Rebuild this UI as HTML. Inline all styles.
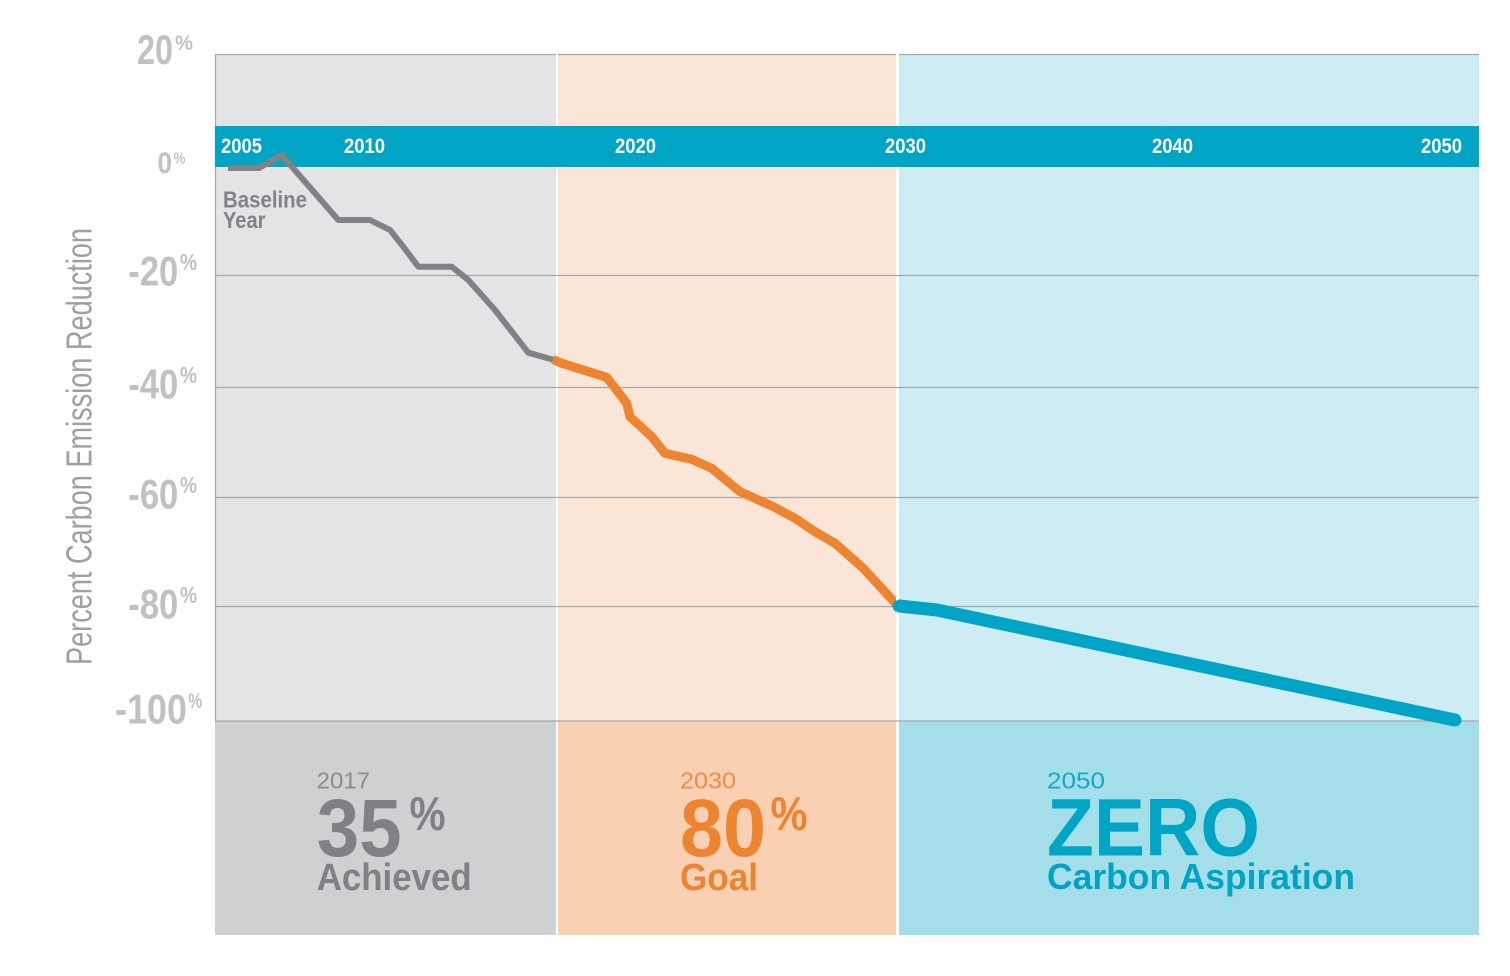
<!DOCTYPE html>
<html>
<head>
<meta charset="utf-8">
<style>
  html, body { margin: 0; padding: 0; background: #ffffff; }
  body { width: 1510px; height: 976px; overflow: hidden; }
  svg { display: block; }
  text { font-family: "Liberation Sans", "DejaVu Sans", sans-serif; }
</style>
</head>
<body>
<svg width="1510" height="976" viewBox="0 0 1510 976" xmlns="http://www.w3.org/2000/svg">
  <rect x="0" y="0" width="1510" height="976" fill="#ffffff"/>

  <!-- plot area column backgrounds -->
  <rect x="215" y="54" width="341" height="667" fill="#e3e4e6"/>
  <rect x="558" y="54" width="338" height="667" fill="#fbe5d6"/>
  <rect x="899" y="54" width="580" height="667" fill="#cdecf3"/>

  <!-- bottom panels -->
  <rect x="215" y="721" width="341" height="214" fill="#cfd0d2"/>
  <rect x="558" y="721" width="338" height="214" fill="#f9d1b2"/>
  <rect x="899" y="721" width="580" height="214" fill="#a4dfe9"/>

  <!-- grid lines -->
  <g stroke="#a6a7a9" stroke-width="1.2" fill="none">
    <line x1="215" y1="54.5" x2="1479" y2="54.5"/>
    <line x1="215" y1="275.5" x2="1479" y2="275.5"/>
    <line x1="215" y1="387.5" x2="1479" y2="387.5"/>
    <line x1="215" y1="497.5" x2="1479" y2="497.5"/>
    <line x1="215" y1="606.5" x2="1479" y2="606.5"/>
    <line x1="215" y1="721" x2="1479" y2="721"/>
    <line x1="215.5" y1="54" x2="215.5" y2="721"/>
  </g>

  <!-- year band -->
  <rect x="215" y="126" width="1264" height="41" fill="#00a4c5"/>
  <g fill="#ffffff" font-weight="bold" font-size="21.5">
    <text x="221" y="153" textLength="41" lengthAdjust="spacingAndGlyphs">2005</text>
    <text x="344" y="153" textLength="41" lengthAdjust="spacingAndGlyphs">2010</text>
    <text x="615" y="153" textLength="41" lengthAdjust="spacingAndGlyphs">2020</text>
    <text x="885" y="153" textLength="41" lengthAdjust="spacingAndGlyphs">2030</text>
    <text x="1152" y="153" textLength="41" lengthAdjust="spacingAndGlyphs">2040</text>
    <text x="1421" y="153" textLength="41" lengthAdjust="spacingAndGlyphs">2050</text>
  </g>

  <!-- y tick labels -->
  <g fill="#c0c1c3" font-weight="bold">
    <text x="137" y="64" font-size="42" textLength="36" lengthAdjust="spacingAndGlyphs">20</text>
    <text x="175" y="50" font-size="21" textLength="18" lengthAdjust="spacingAndGlyphs">%</text>

    <text x="157.5" y="173" font-size="30" textLength="14.5" lengthAdjust="spacingAndGlyphs">0</text>
    <text x="173.5" y="163.5" font-size="16" textLength="12" lengthAdjust="spacingAndGlyphs">%</text>

    <text x="128.3" y="285.5" font-size="42" textLength="50" lengthAdjust="spacingAndGlyphs">-20</text>
    <text x="180" y="270" font-size="23" textLength="17" lengthAdjust="spacingAndGlyphs">%</text>

    <text x="128.3" y="398.5" font-size="42" textLength="50" lengthAdjust="spacingAndGlyphs">-40</text>
    <text x="180" y="383" font-size="23" textLength="17" lengthAdjust="spacingAndGlyphs">%</text>

    <text x="128.3" y="508.5" font-size="42" textLength="50" lengthAdjust="spacingAndGlyphs">-60</text>
    <text x="180" y="493" font-size="23" textLength="17" lengthAdjust="spacingAndGlyphs">%</text>

    <text x="128.3" y="618.5" font-size="42" textLength="50" lengthAdjust="spacingAndGlyphs">-80</text>
    <text x="180" y="603" font-size="23" textLength="17" lengthAdjust="spacingAndGlyphs">%</text>

    <text x="115" y="723.5" font-size="42" textLength="72" lengthAdjust="spacingAndGlyphs">-100</text>
    <text x="188.3" y="708" font-size="21" textLength="14" lengthAdjust="spacingAndGlyphs">%</text>
  </g>

  <!-- y axis title -->
  <text transform="translate(91.5,665) rotate(-90)" font-size="36" fill="#9ea0a3" textLength="437" lengthAdjust="spacingAndGlyphs">Percent Carbon Emission Reduction</text>

  <!-- Baseline Year label -->
  <g fill="#808285" font-weight="bold" font-size="23.5">
    <text x="223" y="207.5" textLength="84" lengthAdjust="spacingAndGlyphs">Baseline</text>
    <text x="223" y="228" textLength="42.5" lengthAdjust="spacingAndGlyphs">Year</text>
  </g>

  <!-- gray line (achieved) -->
  <polyline fill="none" stroke="#808285" stroke-width="6" stroke-linejoin="round" stroke-linecap="butt"
    points="228,168 259,168 281.7,155 338.3,220 370,220 390,230 403.3,246.7 418.3,266.7 451.7,266.7 468.3,280 495,310 528.3,352.7 556,360.5"/>

  <!-- orange line (goal) -->
  <polyline fill="none" stroke="#ed8431" stroke-width="9" stroke-linejoin="round" stroke-linecap="butt"
    points="556.7,361.7 606.7,377.3 626.7,403.3 630,416.7 651.7,436.7 665,453.3 691.7,459.3 711.7,468.3 740,491.7 773.3,506.7 795,518.3 815,531.7 835,543.3 863.3,568.3 897,605"/>

  <!-- blue line (aspiration) -->
  <polyline fill="none" stroke="#00a4c5" stroke-width="13" stroke-linejoin="round" stroke-linecap="round"
    points="899,606 937,610 1455,720"/>

  <!-- white dividers -->
  <rect x="556" y="54" width="2" height="72" fill="#ffffff"/>
  <rect x="556" y="167" width="2" height="768" fill="#ffffff"/>
  <rect x="896" y="54" width="3" height="72" fill="#ffffff"/>
  <rect x="896" y="167" width="3" height="768" fill="#ffffff"/>
  <!-- keep gridlines across dividers -->
  <g stroke="#a6a7a9" stroke-width="1.2">
    <line x1="556" y1="275.5" x2="558" y2="275.5"/>
    <line x1="556" y1="387.5" x2="558" y2="387.5"/>
    <line x1="556" y1="497.5" x2="558" y2="497.5"/>
    <line x1="556" y1="606.5" x2="558" y2="606.5"/>
    <line x1="556" y1="721" x2="558" y2="721"/>
    <line x1="896" y1="275.5" x2="899" y2="275.5"/>
    <line x1="896" y1="387.5" x2="899" y2="387.5"/>
    <line x1="896" y1="497.5" x2="899" y2="497.5"/>
    <line x1="896" y1="721" x2="899" y2="721"/>
  </g>
  <!-- re-draw line joins across dividers -->
  <line x1="553" y1="359.5" x2="560" y2="362.5" stroke="#ed8431" stroke-width="9"/>
  <circle cx="900" cy="606" r="6.5" fill="#00a4c5"/>

  <!-- bottom panel: achieved -->
  <g fill="#7f8184">
    <text x="316.7" y="788.3" font-size="23" fill="#898b8e" textLength="53.3" lengthAdjust="spacingAndGlyphs">2017</text>
    <text x="316.7" y="856" font-size="82" font-weight="bold" textLength="85" lengthAdjust="spacingAndGlyphs">35</text>
    <text x="409.5" y="830" font-size="47" font-weight="bold" textLength="36" lengthAdjust="spacingAndGlyphs">%</text>
    <text x="316.7" y="890" font-size="38" font-weight="bold" textLength="155" lengthAdjust="spacingAndGlyphs">Achieved</text>
  </g>

  <!-- bottom panel: goal -->
  <g fill="#ed8431">
    <text x="680" y="788.3" font-size="23" fill="#ee8c45" textLength="56" lengthAdjust="spacingAndGlyphs">2030</text>
    <text x="680" y="856" font-size="82" font-weight="bold" textLength="86" lengthAdjust="spacingAndGlyphs">80</text>
    <text x="770.5" y="830" font-size="47" font-weight="bold" textLength="37" lengthAdjust="spacingAndGlyphs">%</text>
    <text x="680" y="890" font-size="38" font-weight="bold" textLength="78" lengthAdjust="spacingAndGlyphs">Goal</text>
  </g>

  <!-- bottom panel: aspiration -->
  <g fill="#00a4c5">
    <text x="1047" y="788.3" font-size="23" fill="#12a8c8" textLength="58" lengthAdjust="spacingAndGlyphs">2050</text>
    <text x="1047" y="855.5" font-size="82" font-weight="bold" textLength="213" lengthAdjust="spacingAndGlyphs">ZERO</text>
    <text x="1047" y="889" font-size="36" font-weight="bold" textLength="308" lengthAdjust="spacingAndGlyphs">Carbon Aspiration</text>
  </g>
</svg>
</body>
</html>
